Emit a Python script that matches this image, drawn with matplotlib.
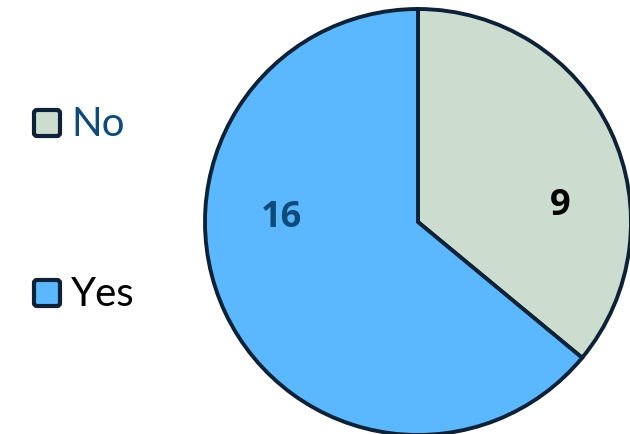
import matplotlib.pyplot as plt
from matplotlib.patches import FancyBboxPatch

labels = ["No", "Yes"]
counts = [9, 16]
fills = ["#CCDDD0", "#5BB8FF"]
legend_text_colors = ["#0E4A7A", "#000000"]
value_text_colors = ["#000000", "#0E4A7A"]

W, H = 630, 434
edge = "#0D2237"

fig = plt.figure(figsize=(W / 100, H / 100), dpi=100)
ax = fig.add_axes([0, 0, 1, 1])

# pie drawn in pixel-like coords (y flipped by hand)
cx, cy, r = 418, H - 222, 213
wedges, _ = ax.pie(
    counts,
    colors=fills,
    startangle=90,
    counterclock=False,
    center=(cx, cy),
    radius=r,
    wedgeprops=dict(edgecolor=edge, linewidth=2.8),
    frame=True,
)
ax.set_xlim(0, W)
ax.set_ylim(0, H)
ax.axis("off")

font = "Lato"
# value labels
value_pos = [(560, 206), (282, 218)]
for (x, y), v, c in zip(value_pos, counts, value_text_colors):
    ax.text(x, H - y, str(v), ha="center", va="center", fontsize=26,
            fontweight="bold", color=c, family="Open Sans")

# legend
legend_y = [123, 293]
for y, lab, fc, tc in zip(legend_y, labels, fills, legend_text_colors):
    ax.add_patch(FancyBboxPatch((34, H - y - 13), 26, 26,
                                boxstyle="round,pad=0,rounding_size=3",
                                facecolor=fc, edgecolor=edge, linewidth=3))
    ax.text(71, H - y - 2, lab, ha="left", va="center", fontsize=29,
            color=tc, family=font)

fig.savefig("out.png", dpi=100)
